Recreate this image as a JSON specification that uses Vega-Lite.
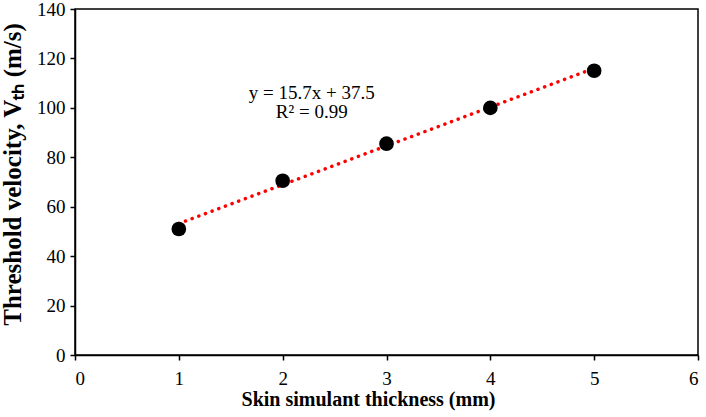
{
  "$schema": "https://vega.github.io/schema/vega-lite/v6.json",
  "width": 623,
  "height": 346,
  "autosize": "none",
  "padding": {"left": 75, "top": 9, "right": 8, "bottom": 62},
  "background": "white",
  "datasets": {
    "measured": [
      {"thickness": 1, "velocity": 51},
      {"thickness": 2, "velocity": 70.5},
      {"thickness": 3, "velocity": 85.5},
      {"thickness": 4, "velocity": 100},
      {"thickness": 5, "velocity": 115}
    ],
    "fit": [
      {"thickness": 1, "velocity": 53.2},
      {"thickness": 5, "velocity": 116}
    ],
    "notes": [
      {"thickness": 2.28, "velocity": 106.2, "label": "y = 15.7x + 37.5"},
      {"thickness": 2.28, "velocity": 98.4, "label": "R² = 0.99"}
    ]
  },
  "layer": [
    {
      "data": {"name": "fit"},
      "mark": {"type": "line", "color": "#ff0000", "strokeWidth": 3.5, "strokeDash": [0.1, 7], "strokeCap": "round"},
      "encoding": {
        "x": {"field": "thickness", "type": "quantitative"},
        "y": {"field": "velocity", "type": "quantitative"}
      }
    },
    {
      "data": {"name": "measured"},
      "mark": {"type": "circle", "color": "black", "opacity": 1, "size": 215},
      "encoding": {
        "x": {
          "field": "thickness",
          "type": "quantitative",
          "scale": {"domain": [0, 6]},
          "axis": {"values": [0, 1, 2, 3, 4, 5, 6], "format": "d", "titleX": 293, "titleY": 34, "titleBaseline": "top"},
          "title": "Skin simulant thickness (mm)"
        },
        "y": {
          "field": "velocity",
          "type": "quantitative",
          "scale": {"domain": [0, 140]},
          "axis": {"values": [0, 20, 40, 60, 80, 100, 120, 140], "format": "d", "titleFontSize": 25, "titleX": -50, "titleY": 165, "titleBaseline": "bottom"},
          "title": "Threshold velocity, Vₜₕ (m/s)"
        }
      }
    },
    {
      "data": {"name": "notes"},
      "mark": {"type": "text", "font": "Liberation Serif", "fontSize": 19, "color": "black", "align": "center", "baseline": "middle"},
      "encoding": {
        "x": {"field": "thickness", "type": "quantitative"},
        "y": {"field": "velocity", "type": "quantitative"},
        "text": {"field": "label"}
      }
    }
  ],
  "config": {
    "view": {"stroke": "black", "strokeWidth": 1.5},
    "font": "Liberation Serif",
    "axis": {
      "grid": false,
      "domainColor": "black",
      "domainWidth": 1.5,
      "tickColor": "black",
      "tickWidth": 1.5,
      "tickSize": 5,
      "labelFont": "Liberation Serif",
      "labelFontSize": 19,
      "labelColor": "black",
      "titleFont": "Liberation Serif",
      "titleFontSize": 20,
      "titleFontWeight": "bold",
      "titleColor": "black"
    },
    "axisX": {"labelPadding": 9},
    "axisY": {"labelPadding": 5}
  }
}
